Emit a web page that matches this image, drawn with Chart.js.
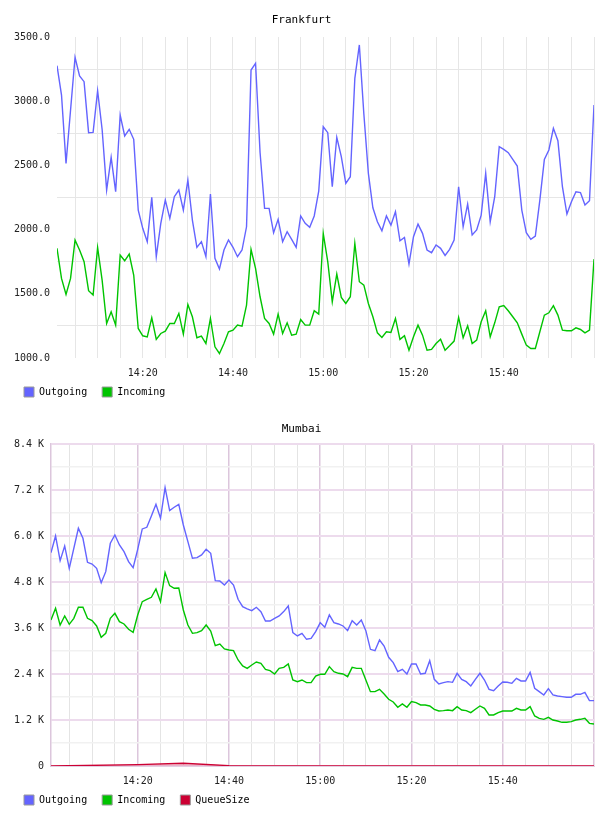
<!DOCTYPE html>
<html>
<head>
<meta charset="utf-8">
<script src="https://cdn.jsdelivr.net/npm/chart.js@4.4.1/dist/chart.umd.min.js"></script>
<style>
  body { margin: 0; background: #fff; }
  canvas { display: block; }
</style>
</head>
<body>
<canvas id="frankfurtChart" width="608" height="410"></canvas>
<canvas id="mumbaiChart" width="608" height="406"></canvas>
<script>
// one sample per minute, first sample at 14:01
const firstMinute = 1;

// Frankfurt
const frankfurtOutgoing = [
  3277, 3048, 2516, 2930, 3342, 3196, 3152, 2755, 2757, 3082,
  2780, 2308, 2563, 2295, 2892, 2729, 2781, 2703, 2152, 2010,
  1906, 2251, 1789, 2049, 2230, 2088, 2256, 2308, 2152, 2386,
  2074, 1862, 1906, 1789, 2277, 1776, 1693, 1841, 1919, 1862,
  1789, 1841, 2022, 3243, 3295, 2600, 2165, 2165, 1976, 2080,
  1906, 1984, 1924, 1862, 2106, 2049, 2018, 2106, 2300, 2801,
  2755, 2334, 2719, 2568, 2360, 2412, 3178, 3438, 2900, 2438,
  2170, 2061, 1991, 2106, 2035, 2139, 1913, 1939, 1732, 1945,
  2043, 1971, 1841, 1820, 1880, 1854, 1799, 1846, 1919, 2334,
  2022, 2199, 1958, 1997, 2113, 2438, 2061, 2256, 2646, 2625,
  2599, 2547, 2495, 2152, 1976, 1924, 1950, 2230, 2547, 2620,
  2789, 2692, 2334, 2121, 2217, 2295, 2288, 2191, 2225, 2970
];
const frankfurtIncoming = [
  1854, 1620, 1495, 1620, 1918, 1841, 1750, 1524, 1490, 1861,
  1607, 1269, 1360, 1256, 1802, 1757, 1809, 1646, 1230, 1173,
  1165, 1313, 1145, 1191, 1209, 1269, 1269, 1347, 1186, 1417,
  1321, 1158, 1171, 1113, 1308, 1087, 1035, 1113, 1204, 1217,
  1256, 1248, 1412, 1846, 1698, 1477, 1308, 1269, 1186, 1342,
  1191, 1274, 1178, 1186, 1300, 1256, 1256, 1368, 1342, 1970,
  1750, 1438, 1654, 1472, 1425, 1477, 1892, 1594, 1568, 1425,
  1321, 1196, 1160, 1204, 1199, 1308, 1145, 1173, 1061, 1165,
  1256, 1178, 1061, 1067, 1113, 1147, 1061, 1095, 1132, 1316,
  1158, 1251, 1113, 1139, 1282, 1368, 1165, 1274, 1399, 1409,
  1368, 1321, 1274, 1186, 1100, 1074, 1074, 1204, 1334, 1352,
  1407, 1334, 1217, 1212, 1212, 1235, 1222, 1196, 1217, 1770
];
const frankfurtTicks = [1000, 1250, 1500, 1750, 2000, 2250, 2500, 2750, 3000, 3250, 3500];

// Mumbai
const mumbaiOutgoing = [
  5566, 6001, 5357, 5740, 5157, 5679, 6201, 5940, 5314, 5270,
  5157, 4783, 5070, 5810, 6027, 5766, 5592, 5331, 5175, 5653,
  6184, 6227, 6523, 6827, 6462, 7262, 6662, 6749, 6827, 6288,
  5853, 5418, 5436, 5505, 5653, 5549, 4836, 4827, 4722, 4853,
  4722, 4349, 4157, 4100, 4053, 4140, 4027, 3783, 3783, 3853,
  3914, 4027, 4174, 3479, 3392, 3461, 3305, 3331, 3505, 3740,
  3618, 3940, 3740, 3705, 3653, 3531, 3792, 3679, 3809, 3531,
  3044, 3009, 3287, 3131, 2835, 2696, 2461, 2522, 2400, 2661,
  2661, 2400, 2418, 2748, 2261, 2140, 2174, 2200, 2183, 2418,
  2261, 2200, 2087, 2261, 2418, 2244, 2000, 1966, 2087, 2192,
  2183, 2157, 2287, 2218, 2218, 2444, 2027, 1940, 1853, 2018,
  1853, 1827, 1809, 1792, 1792, 1870, 1870, 1922, 1705, 1705
];
const mumbaiIncoming = [
  3809, 4114, 3679, 3914, 3696, 3853, 4140, 4140, 3853, 3792,
  3653, 3357, 3461, 3853, 3983, 3766, 3705, 3566, 3487, 3940,
  4288, 4349, 4401, 4618, 4288, 5045, 4705, 4636, 4644, 4070,
  3679, 3461, 3479, 3531, 3679, 3522, 3140, 3183, 3053, 3027,
  3009, 2766, 2609, 2548, 2635, 2713, 2679, 2522, 2487, 2400,
  2548, 2574, 2661, 2244, 2200, 2244, 2174, 2174, 2348, 2392,
  2392, 2592, 2461, 2418, 2400, 2331, 2574, 2548, 2548, 2244,
  1940, 1940, 2000, 1879, 1740, 1670, 1531, 1618, 1531, 1679,
  1653, 1592, 1592, 1566, 1479, 1435, 1444, 1461, 1444, 1548,
  1461, 1444, 1392, 1479, 1566, 1505, 1331, 1331, 1392, 1435,
  1435, 1435, 1505, 1461, 1461, 1548, 1305, 1244, 1218, 1270,
  1200, 1174, 1140, 1140, 1157, 1200, 1218, 1244, 1113, 1096
];
const queueMinutes = [1, 20, 30, 40, 44, 120];
const queueSize = [0, 35, 70, 10, 0, 0];
const mumbaiTicks = [0, 600, 1200, 1800, 2400, 3000, 3600, 4200, 4800, 5400, 6000, 6600, 7200, 7800, 8400];

// time axis: grid every 5 minutes, label every 20
const timeTicks = [5, 10, 15, 20, 25, 30, 35, 40, 45, 50, 55, 60,
                   65, 70, 75, 80, 85, 90, 95, 100, 105, 110, 115, 120];
const timeLabels = { 20: '14:20', 40: '14:40', 60: '15:00', 80: '15:20', 100: '15:40' };

const MONO = "'DejaVu Sans Mono', 'Liberation Mono', monospace";
const BLUE = '#6464ff', GREEN = '#00c400', RED = '#cc0033';

// pull the legend up closer to the time labels
const legendNudge = {
  id: 'legendNudge',
  afterLayout(chart, args, opts) {
    chart.legend.top -= opts.dy;
    chart.legend.bottom -= opts.dy;
  }
};

function toPoints(values, start) {
  return values.map((v, i) => ({ x: start + i, y: v }));
}

function legendLabels(colors) {
  return function (chart) {
    const items = Chart.defaults.plugins.legend.labels.generateLabels(chart);
    items.forEach((it, i) => {
      it.fillStyle = colors[i];
      it.strokeStyle = '#9a9a9a';
      it.lineWidth = 1;
    });
    return items;
  };
}

function lineSet(label, data, color) {
  return {
    label, data, borderColor: color, backgroundColor: color,
    borderWidth: 1.4, pointRadius: 0, tension: 0, fill: false
  };
}

function baseOptions(o) {
  return {
    responsive: false,
    animation: false,
    layout: { padding: { left: 9, right: 14, top: 0, bottom: o.padBottom } },
    plugins: {
      title: {
        display: true, text: o.title, color: '#000',
        font: { family: MONO, size: 11, weight: 'normal' },
        padding: { top: o.titleTop, bottom: o.titleBottom }
      },
      legend: {
        position: 'bottom', align: 'start',
        labels: {
          font: { family: MONO, size: 10 }, color: '#000',
          boxWidth: 10, boxHeight: 10, padding: 15,
          generateLabels: legendLabels(o.swatches)
        }
      },
      legendNudge: { dy: 7 },
      tooltip: { enabled: false }
    },
    scales: {
      x: {
        type: 'linear', min: 1, max: 120,
        afterBuildTicks: s => { s.ticks = timeTicks.map(v => ({ value: v })); },
        afterFit: s => { s.height = 21; },
        ticks: {
          autoSkip: false, maxRotation: 0, padding: 9, color: '#222',
          font: { family: MONO, size: 10 },
          callback: v => timeLabels[v] || ''
        },
        grid: { drawTicks: false, color: o.xGrid, lineWidth: o.xWidth },
        border: { display: o.border, color: '#e2cfe2' }
      },
      y: {
        min: o.yTicks[0], max: o.yTicks[o.yTicks.length - 1],
        afterBuildTicks: s => { s.ticks = o.yTicks.map(v => ({ value: v })); },
        afterFit: s => { s.width = o.yWidth; },
        ticks: {
          autoSkip: false, padding: 7, color: '#222',
          font: { family: MONO, size: 10 },
          callback: o.yLabel
        },
        grid: { drawTicks: false, color: o.yGrid, lineWidth: o.yWidth2 },
        border: { display: o.border, color: '#dcc6dc', width: 1.5 }
      }
    }
  };
}

new Chart(document.getElementById('frankfurtChart'), {
  type: 'line',
  data: {
    datasets: [
      lineSet('Outgoing', toPoints(frankfurtOutgoing, firstMinute), BLUE),
      lineSet('Incoming', toPoints(frankfurtIncoming, firstMinute), GREEN)
    ]
  },
  options: baseOptions({
    title: 'Frankfurt', titleTop: 14, titleBottom: 9.8, padBottom: -4,
    swatches: [BLUE, GREEN], yTicks: frankfurtTicks, yWidth: 48, border: false,
    yLabel: v => (v % 500 === 0 ? v.toFixed(1) : ''),
    xGrid: '#e6e6e6', xWidth: 1,
    yGrid: c => (c.tick.value % 500 === 0 ? 'rgba(0,0,0,0)' : '#e6e6e6'), yWidth2: 1
  }),
  plugins: [legendNudge]
});

new Chart(document.getElementById('mumbaiChart'), {
  type: 'line',
  data: {
    datasets: [
      lineSet('Outgoing', toPoints(mumbaiOutgoing, firstMinute), BLUE),
      lineSet('Incoming', toPoints(mumbaiIncoming, firstMinute), GREEN),
      Object.assign(lineSet('QueueSize', queueMinutes.map((m, i) => ({ x: m, y: queueSize[i] })), RED),
        { fill: 'origin', backgroundColor: 'rgba(204,0,51,0.18)' })
    ]
  },
  options: baseOptions({
    title: 'Mumbai', titleTop: 13, titleBottom: 7.8, padBottom: -6,
    swatches: [BLUE, GREEN, RED], yTicks: mumbaiTicks, yWidth: 42, border: true,
    yLabel: v => (v === 0 ? '0' : v % 1200 === 0 ? (v / 1000).toFixed(1) + ' K' : ''),
    xGrid: c => (c.tick.value % 20 === 0 || c.tick.value === 120 ? '#dcc6dc' : '#e4e4e4'),
    xWidth: c => (c.tick.value % 20 === 0 || c.tick.value === 120 ? 1.5 : 1),
    yGrid: c => (c.tick.value % 1200 === 0 ? '#eddbed' : '#f1f1f1'),
    yWidth2: c => (c.tick.value % 1200 === 0 ? 2 : 1.5)
  }),
  plugins: [legendNudge]
});
</script>
</body>
</html>
